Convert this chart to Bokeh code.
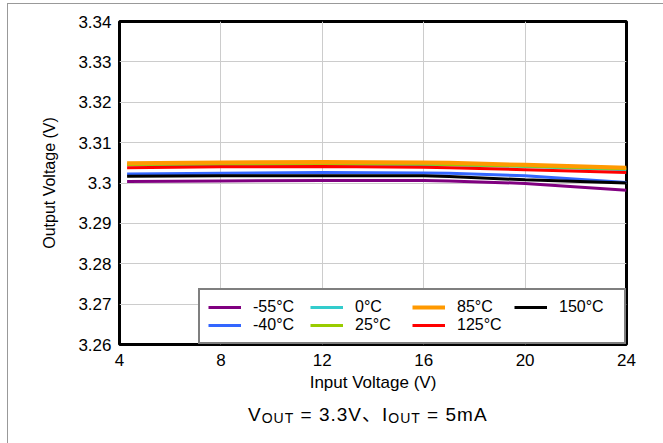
from bokeh.plotting import figure
from bokeh.models import Legend, LegendItem, FixedTicker, Div
from bokeh.layouts import column
from bokeh.embed import file_html
from bokeh.resources import INLINE

# Input voltage sweep (V)
vin = [4.3, 8, 12, 16, 17, 20, 24]

# Output voltage (V) per junction temperature
vout_m55 = [3.3004, 3.3005, 3.3006, 3.3006, 3.3005, 3.2999, 3.2982]
vout_m40 = [3.3022, 3.3024, 3.3026, 3.3025, 3.3024, 3.3018, 3.3001]
vout_0 = [3.3045, 3.3046, 3.3047, 3.3046, 3.3045, 3.3041, 3.3033]
vout_25 = [3.3046, 3.3047, 3.3048, 3.3047, 3.3046, 3.3042, 3.3035]
vout_85 = [3.3049, 3.3051, 3.3052, 3.3051, 3.3050, 3.3045, 3.3038]
vout_125 = [3.3038, 3.3040, 3.3041, 3.3039, 3.3038, 3.3033, 3.3026]
vout_150 = [3.3017, 3.3018, 3.3018, 3.3018, 3.3016, 3.3008, 3.3000]

series_names = ["-55°C", "-40°C", "0°C", "25°C", "85°C", "125°C", "150°C"]
series_values = [vout_m55, vout_m40, vout_0, vout_25, vout_85, vout_125, vout_150]
series_colors = ["#800080", "#3366ff", "#33cccc", "#99cc00", "#ff9900", "#ff0000", "#000000"]
series_widths = [3, 3, 3, 3, 4, 3, 3]

x_ticks = [4, 8, 12, 16, 20, 24]
y_ticks = [3.26, 3.27, 3.28, 3.29, 3.30, 3.31, 3.32, 3.33, 3.34]
y_tick_labels = ["3.26", "3.27", "3.28", "3.29", "3.3", "3.31", "3.32", "3.33", "3.34"]

FONT = "Liberation Sans"

p = figure(width=647, height=394, x_range=(4, 24), y_range=(3.26, 3.34),
           output_backend="svg", toolbar_location=None,
           min_border_left=111, min_border_right=29,
           min_border_top=17, min_border_bottom=54)
p.background_fill_color = "white"
p.border_fill_color = "white"
p.outline_line_color = "black"
p.outline_line_width = 3

# axes
p.xaxis.ticker = FixedTicker(ticks=x_ticks)
p.yaxis.ticker = FixedTicker(ticks=y_ticks)
p.yaxis.major_label_overrides = {t: s for t, s in zip(y_ticks, y_tick_labels)}
for ax in (p.xaxis, p.yaxis):
    ax.axis_line_color = None
    ax.major_tick_line_color = None
    ax.minor_tick_line_color = None
    ax.major_tick_out = 0
    ax.major_tick_in = 0
    ax.major_label_text_font = FONT
    ax.major_label_text_font_size = "17px"
    ax.major_label_text_color = "black"
    ax.axis_label_text_font = FONT
    ax.axis_label_text_font_style = "normal"
    ax.axis_label_text_color = "black"
p.xaxis.axis_label = "Input Voltage (V)"
p.yaxis.axis_label = "Output Voltage (V)"
p.xaxis.axis_label_text_font_size = "17px"
p.yaxis.axis_label_text_font_size = "16px"
p.xaxis.major_label_standoff = 9
p.yaxis.major_label_standoff = 8
p.xaxis.axis_label_standoff = 4
p.yaxis.axis_label_standoff = 17

p.grid.grid_line_color = "#cccccc"
p.grid.grid_line_width = 1

renderers = []
for name, vals, col, lw in zip(series_names, series_values, series_colors, series_widths):
    r = p.line(vin, vals, line_color=col, line_width=lw)
    renderers.append((name, r))

legend = Legend(items=[LegendItem(label=n, renderers=[r]) for n, r in renderers],
                location="bottom_right", orientation="vertical", nrows=2)
legend.margin = 0
legend.padding = 8
legend.spacing = -1
legend.glyph_width = 33
legend.glyph_height = 14
legend.label_height = 14
legend.label_width = 57
legend.label_standoff = 12
legend.label_text_font = FONT
legend.label_text_font_size = "16px"
legend.label_text_line_height = 1.0
legend.label_text_color = "black"
legend.border_line_color = "black"
legend.border_line_width = 2
legend.background_fill_color = "white"
legend.background_fill_alpha = 1
p.add_layout(legend)

# caption with subscripts under the chart
caption = Div(
    text=('<div style="font-family:\'Liberation Sans\',\'Noto Sans CJK JP\';font-size:19px;'
          'line-height:24px;color:black;letter-spacing:1px;white-space:nowrap;'
          'padding-top:0px;padding-left:235px;text-align:left;">'
          'V<span style="font-size:14px;position:relative;top:2px;">OUT</span>'
          ' = 3.3V、I<span style="font-size:14px;position:relative;top:2px;">OUT</span>'
          ' = 5mA</div>'),
    width=647, height=40)

root = column(p, caption, spacing=0,
              styles={"margin-left": "7px", "margin-top": "3px",
                      "border-left": "1px solid #999999",
                      "border-top": "1px solid #999999",
                      "border-right": "1px solid #999999"})

open("out.html", "w").write(file_html(root, INLINE))
